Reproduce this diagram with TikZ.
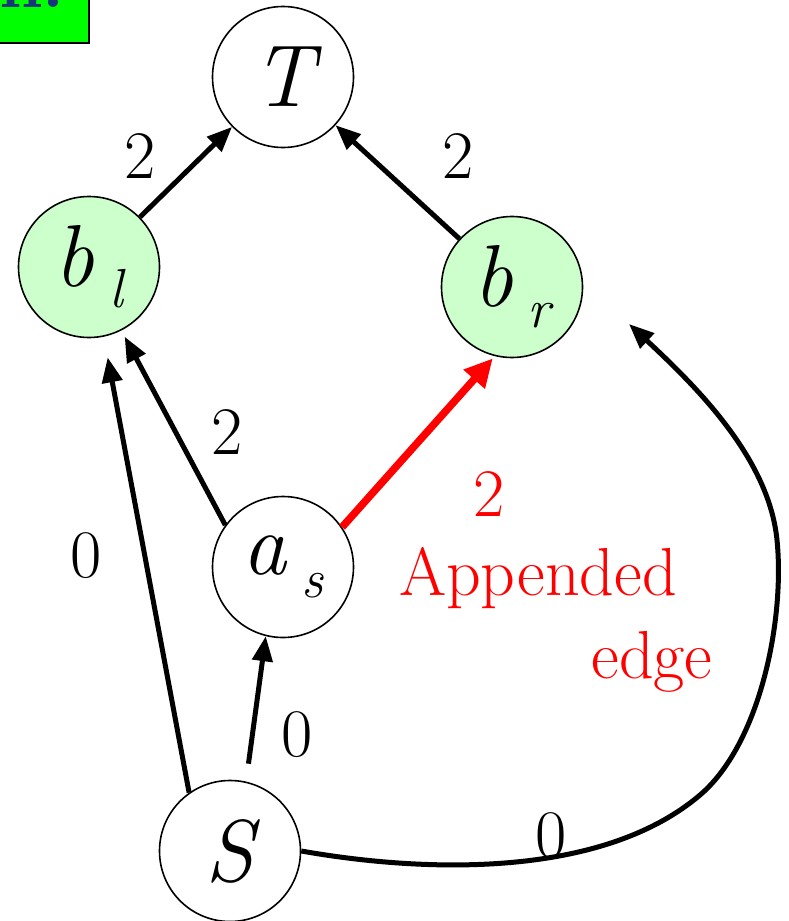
\documentclass[tikz,border=0pt]{standalone}
\usepackage{fontspec}
\usepackage{tikz}
\usetikzlibrary{arrows.meta,positioning,calc}
\definecolor{leafGreen}{HTML}{CCFFCC}
\definecolor{titleGreen}{HTML}{00FF00}
\definecolor{titleBlue}{HTML}{17377A}
\newcommand\vsub[2][21pt]{\hspace{0.17em}\raisebox{-#1}{\fontsize{55}{55}\selectfont #2}}

\begin{document}
\begin{tikzpicture}[x=1pt,y=-1pt,
    vertex/.style={circle,draw,line width=1.6pt,minimum size=141pt,inner sep=0pt,
                   font=\fontsize{88}{88}\selectfont\itshape},
    leaf/.style={vertex,fill=leafGreen},
    wt/.style={font=\fontsize{68}{68}\selectfont,inner sep=0pt},
    arc/.style={line width=5pt,-{Triangle[length=25pt,width=20pt]}},
    newarc/.style={arc,red,line width=7.5pt,-{Triangle[length=28pt,width=27pt]}}]
  \useasboundingbox (0,0) rectangle (788,921);
  % title box, cut by the top edge
  \draw[fill=titleGreen,line width=2pt] (-20,-80) rectangle (89,43);
  \node[anchor=base east,inner sep=0pt,text=titleBlue,
        font=\fontsize{70}{70}\selectfont\bfseries] (title) at (65,7) {n:};

  \node[vertex] (T)  at (283,77)  {T};
  \node[leaf]   (bl) at (89,267)  {b\vsub{l}};
  \node[leaf]   (br) at (512,287) {b\vsub{r}};
  \node[vertex] (as) at (283,567) {a\vsub[23pt]{s}};
  \node[vertex] (S)  at (230,851) {S};
  \coordinate (brin) at (629,324);

  \draw[arc] (bl) -- (T);
  \draw[arc] (br) -- (T);
  \draw[arc,shorten >=7pt] (as.144) -- (bl.-63);
  \draw[arc,shorten >=21pt] (S.125) -- (bl.-78);
  \draw[arc,shorten <=18pt] (S.77) -- (as.-104);
  \draw[newarc,shorten >=3pt] (as.34) -- (br.-104);
  \draw[arc] (S.east) .. controls (420,872) and (600,880) .. (700,795)
             .. controls (760,744) and (785,620) .. (777,540)
             .. controls (769,460) and (700,390) .. (brin);

  \node[wt] (w1) at (140,156) {2};
  \node[wt] (w2) at (458,156) {2};
  \node[wt] (w3) at (227,432) {2};
  \node[wt] (w4) at (86,556)  {0};
  \node[wt] (w5) at (297,735) {0};
  \node[wt] (w6) at (551,836) {0};
  \node[wt,text=red] (w7) at (489,494) {2};
  \node[wt,text=red,anchor=base] (app) at (538,595) {Appended};
  \node[wt,text=red,anchor=base] (edg) at (652,678) {edge};
\end{tikzpicture}
\end{document}
